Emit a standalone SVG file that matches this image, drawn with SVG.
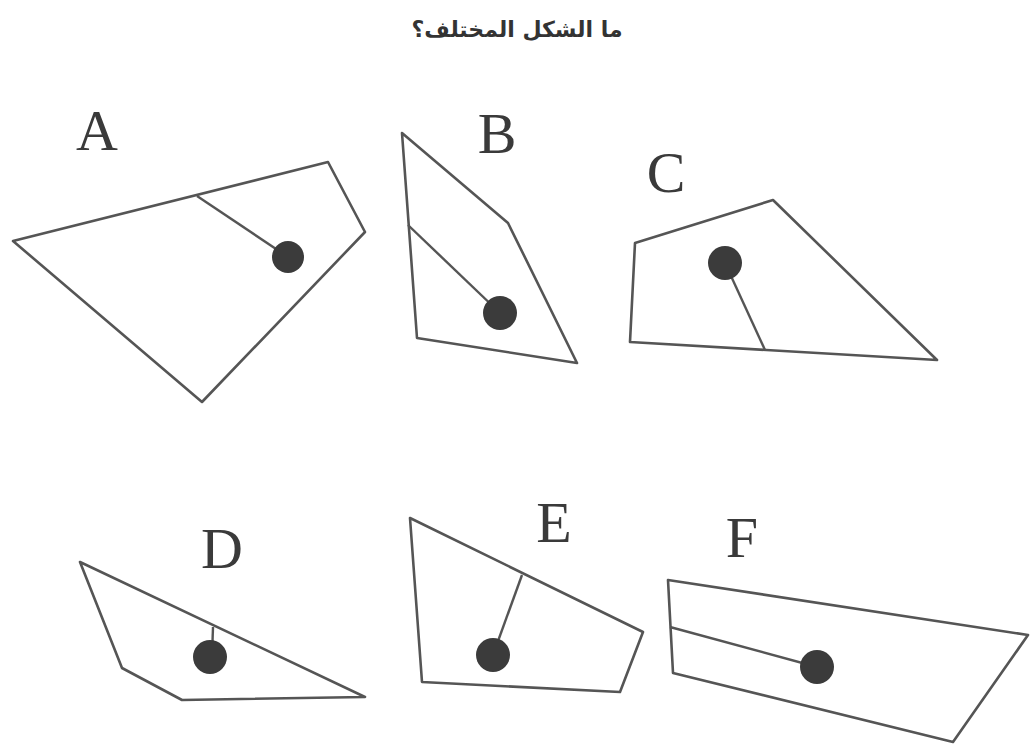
<svg xmlns="http://www.w3.org/2000/svg" width="1030" height="756" viewBox="0 0 1030 756">
<style>
.shape{fill:none;stroke:#555;stroke-width:2.6;stroke-linejoin:round}
.arm{stroke:#555;stroke-width:2.4}
.dot{fill:#3b3b3b}
.lbl{font-family:"Liberation Serif",serif;font-size:58px;fill:#3a3a3a;text-anchor:middle}
.title{font-family:"DejaVu Sans","Noto Sans",sans-serif;font-size:22px;font-weight:bold;fill:#333;text-anchor:middle}
</style>
<rect width="1030" height="756" fill="#fff"/>
<text class="title" x="517" y="37" direction="rtl">ما الشكل المختلف؟</text>
<g id="A">
<text class="lbl" x="97" y="150">A</text>
<polygon class="shape" points="13,241 328,162 365,232 202,402"/>
<line class="arm" x1="197" y1="196" x2="288" y2="257"/>
<circle class="dot" cx="288" cy="257" r="16"/>
</g>
<g id="B">
<text class="lbl" x="497" y="153">B</text>
<polygon class="shape" points="402,133 508,223 577,363 417,338"/>
<line class="arm" x1="408" y1="225" x2="500" y2="313"/>
<circle class="dot" cx="500" cy="313" r="17"/>
</g>
<g id="C">
<text class="lbl" x="666" y="192">C</text>
<polygon class="shape" points="635,243 773,200 937,360 630,342"/>
<line class="arm" x1="725" y1="263" x2="765" y2="350"/>
<circle class="dot" cx="725" cy="263" r="17"/>
</g>
<g id="D">
<text class="lbl" x="222" y="568">D</text>
<polygon class="shape" points="80,562 365,697 182,700 122,668"/>
<line class="arm" x1="212" y1="657" x2="213" y2="627"/>
<circle class="dot" cx="210" cy="657" r="17"/>
</g>
<g id="E">
<text class="lbl" x="554" y="542">E</text>
<polygon class="shape" points="410,518 643,632 620,692 422,682"/>
<line class="arm" x1="522" y1="575" x2="493" y2="655"/>
<circle class="dot" cx="493" cy="655" r="17"/>
</g>
<g id="F">
<text class="lbl" x="742" y="557">F</text>
<polygon class="shape" points="668,580 1028,635 953,742 673,673"/>
<line class="arm" x1="670" y1="627" x2="817" y2="667"/>
<circle class="dot" cx="817" cy="667" r="17"/>
</g>
</svg>
